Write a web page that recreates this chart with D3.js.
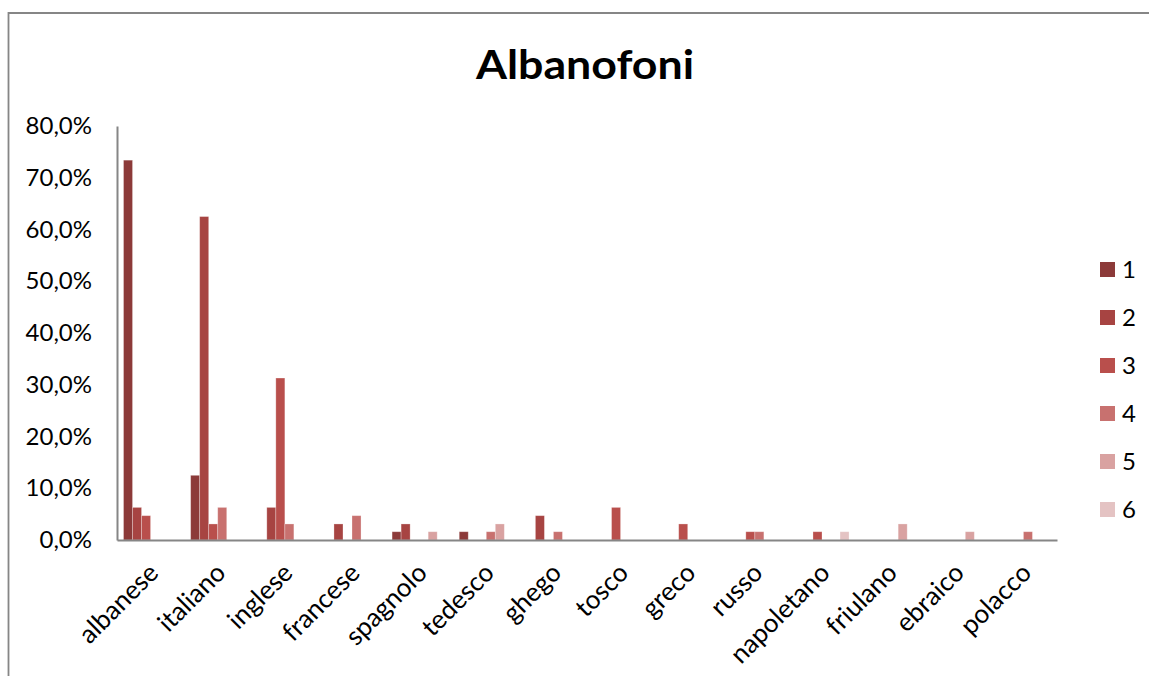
<!DOCTYPE html>
<html><head><meta charset="utf-8">
<script src="https://cdn.jsdelivr.net/npm/d3@7"></script>
<style>html,body{margin:0;padding:0;background:#fff;} svg{display:block;font-family:Lato,"Open Sans",sans-serif;}</style>
</head><body>
<svg id="c" width="1149" height="676"></svg>
<script>
const title = "Albanofoni";
const categories = ["albanese","italiano","inglese","francese","spagnolo","tedesco","ghego","tosco","greco","russo","napoletano","friulano","ebraico","polacco"];
const seriesNames = ["1","2","3","4","5","6"];
const s1 = [73.4,12.5,0,0,1.6,1.6,0,0,0,0,0,0,0,0];
const s2 = [6.3,62.5,6.3,3.1,3.1,0,4.7,0,0,0,0,0,0,0];
const s3 = [4.7,3.1,31.3,0,0,0,0,6.3,3.1,1.6,1.6,0,0,0];
const s4 = [0,6.3,3.1,4.7,0,1.6,1.6,0,0,1.6,0,0,0,1.6];
const s5 = [0,0,0,0,1.6,3.1,0,0,0,0,0,3.1,1.6,0];
const s6 = [0,0,0,0,0,0,0,0,0,0,1.6,0,0,0];
const yTicks = [0,10,20,30,40,50,60,70,80];
const colors = ["#8C3A39","#A74442","#B94F4C","#C8716F","#D9A2A1","#E4C3C3"];

const seriesValues = [s1,s2,s3,s4,s5,s6];
const svg = d3.select("#c");
const mLeft = 117, mRight = 1057, mTop = 126, mBottom = 540;

// frame
svg.append("path").attr("d","M8.5,676 L8.5,13 L1149,13").attr("fill","none").attr("stroke","#868686").attr("stroke-width",1.8);

svg.append("text").attr("x",585).attr("y",79).attr("text-anchor","middle")
  .attr("font-size",41).attr("font-weight","bold").attr("fill","#000")
  .attr("textLength",218).attr("lengthAdjust","spacingAndGlyphs").text(title);

const x = d3.scaleBand().domain(categories).range([mLeft,mRight]).paddingInner(0.194).paddingOuter(0.097);
const xs = d3.scaleBand().domain(seriesNames).range([0,x.bandwidth()]);
const y = d3.scaleLinear().domain([0,80]).range([mBottom,mTop]);

const data = [];
seriesValues.forEach((arr,si)=>arr.forEach((v,ci)=>{ if(v>0) data.push({c:categories[ci],s:seriesNames[si],si,v}); }));

svg.append("g").selectAll("rect").data(data).join("rect")
  .attr("x",d=>x(d.c)+xs(d.s)).attr("width",xs.bandwidth())
  .attr("y",d=>y(d.v)).attr("height",d=>y(0)-y(d.v))
  .attr("fill",d=>colors[d.si]).attr("stroke","#fff").attr("stroke-opacity",0.35).attr("stroke-width",0.8);

// y axis
const ya = svg.append("g").attr("transform",`translate(${mLeft},0)`)
  .call(d3.axisLeft(y).tickValues(yTicks).tickSize(0).tickPadding(25).tickFormat(d=>d3.format(".1f")(d).replace(".",",")+"%"));
ya.select(".domain").attr("stroke","#868686").attr("stroke-width",2);
ya.selectAll("text").attr("font-size",24).attr("font-family","Lato, sans-serif").attr("fill","#000");

// x axis
const xa = svg.append("g").attr("transform",`translate(0,${mBottom})`)
  .call(d3.axisBottom(x).tickSize(0).tickPadding(0));
xa.select(".domain").attr("stroke","#868686").attr("stroke-width",2.2);
xa.selectAll("text").attr("font-size",26).attr("font-family","Lato, sans-serif").attr("fill","#000")
  .attr("text-anchor","end").attr("dy",null).attr("y",null)
  .attr("transform","translate(3,28) rotate(-45)").attr("dy","0.35em");

// legend
const lg = svg.append("g").selectAll("g").data(seriesNames).join("g")
  .attr("transform",(d,i)=>`translate(1100,${262+i*48})`);
lg.append("rect").attr("width",15).attr("height",15).attr("fill",(d,i)=>colors[i]);
lg.append("text").attr("x",22).attr("y",7.5).attr("dy","0.36em").attr("font-size",24).attr("fill","#000").text(d=>d);
</script>
</body></html>
